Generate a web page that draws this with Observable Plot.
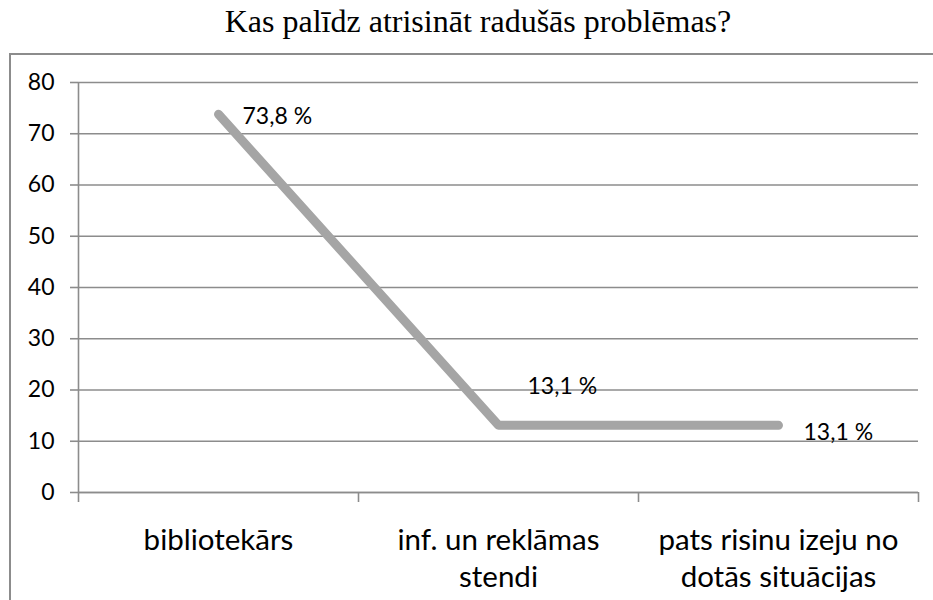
<!DOCTYPE html>
<html>
<head>
<meta charset="utf-8">
<script src="https://cdn.jsdelivr.net/npm/d3@7"></script>
<script src="https://cdn.jsdelivr.net/npm/@observablehq/plot@0.6"></script>
<style>
  html, body { margin: 0; padding: 0; background: #fff; }
  body { width: 933px; height: 600px; overflow: hidden; position: relative; }
  #title { position: absolute; left: 0; width: 956px; top: 5px; text-align: center;
           font-family: "Liberation Serif", "Times New Roman", serif; font-size: 32px; line-height: 1; color: #000; white-space: nowrap; }
  #frame { position: absolute; left: 9px; top: 53px; width: 1000px; height: 700px; border: 2px solid #8c8c8c; }
  #chart { position: absolute; left: 0; top: 0; }
</style>
</head>
<body>
<div id="frame"></div>
<div id="title">Kas palīdz atrisināt radušās problēmas?</div>
<div id="chart"></div>
<script>
const categories = ["bibliotekārs", "inf. un reklāmas\nstendi", "pats risinu izeju no\ndotās situācijas"];
const values = [73.8, 13.1, 13.1];
const yTicks = [0, 10, 20, 30, 40, 50, 60, 70, 80];

const data = categories.map((c, i) => ({i, category: c, value: values[i], label: values[i].toFixed(1).replace(".", ",") + " %"}));
const boundaries = d3.range(categories.length + 1).map(i => i - 0.5);
const gridColor = "#8c8c8c";
const font = "Lato, 'Open Sans', sans-serif";

const chart = Plot.plot({
  width: 933,
  height: 600,
  marginLeft: 78,
  marginRight: 15,
  marginTop: 82,
  marginBottom: 108,
  style: {fontFamily: font, background: "transparent", overflow: "visible"},
  x: {domain: [-0.5, categories.length - 0.5], axis: null},
  y: {domain: [0, 80], axis: null},
  marks: [
    Plot.gridY(yTicks, {stroke: gridColor, strokeOpacity: 1, strokeWidth: 1.6}),
    Plot.axisY(yTicks, {tickSize: 8, tickPadding: 16, stroke: gridColor, strokeWidth: 1.6, fill: "#000", fontSize: 23, label: null}),
    Plot.ruleX([-0.5], {stroke: gridColor, strokeWidth: 1.6}),
    Plot.ruleY([0], {stroke: gridColor, strokeWidth: 1.6}),
    Plot.axisX(boundaries, {tickSize: 10, stroke: gridColor, strokeWidth: 1.6, tickFormat: () => "", label: null}),
    Plot.text(data, {x: "i", y: () => 0, text: "category", dy: 31, lineAnchor: "top", fontSize: 29.5, lineHeight: 37 / 29.5, fill: "#000"}),
    Plot.line(data, {x: "i", y: "value", stroke: "#a5a5a5", strokeWidth: 9, strokeLinecap: "round", strokeLinejoin: "round"}),
    Plot.text(data.filter(d => d.i === 0), {x: "i", y: "value", text: "label", textAnchor: "start", dx: 24, dy: 2, fontSize: 23, fill: "#000"}),
    Plot.text(data.filter(d => d.i === 1), {x: "i", y: "value", text: "label", textAnchor: "start", dx: 29, dy: -39, fontSize: 23, fill: "#000"}),
    Plot.text(data.filter(d => d.i === 2), {x: "i", y: "value", text: "label", textAnchor: "start", dx: 25, dy: 7, fontSize: 23, fill: "#000"})
  ]
});
document.getElementById("chart").appendChild(chart);
</script>
</body>
</html>
